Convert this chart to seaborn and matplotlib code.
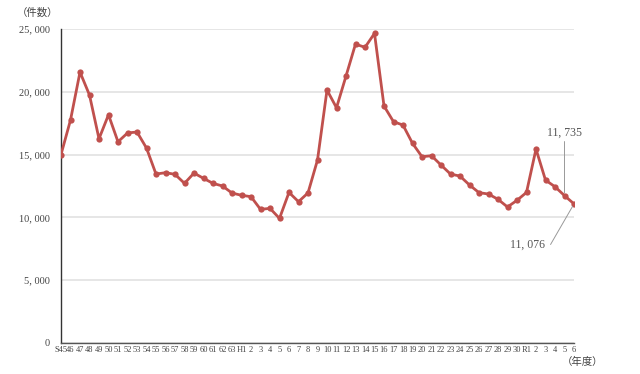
import matplotlib
matplotlib.use("Agg")
import matplotlib.pyplot as plt
import seaborn as sns
import pandas as pd
from matplotlib.ticker import FuncFormatter

# ---- data ----
years = (["S45"] + [str(i) for i in range(46, 64)] + ["H1"] + [str(i) for i in range(2, 31)]
         + ["R1"] + [str(i) for i in range(2, 7)])
counts = [15000, 17750, 21570, 19740, 16260, 18170, 16020, 16720, 16800, 15520,
          13450, 13560, 13430, 12710, 13530, 13110, 12710, 12500, 11940, 11760,
          11650, 10640, 10720, 9920, 11990, 11250, 11950, 14570, 20140, 18730,
          21250, 23800, 23540, 24650, 18870, 17620, 17350, 15900, 14830, 14910,
          14170, 13450, 13290, 12580, 11970, 11860, 11440, 10830, 11360, 11990,
          15440, 12970, 12440, 11735, 11076]
y_ticks = [0, 5000, 10000, 15000, 20000, 25000]
y_label = "（件数）"
x_label = "（年度）"

df = pd.DataFrame({"idx": range(len(years)), "year": years, "count": counts})

sns.set_style("white")
plt.rcParams['font.family'] = ['Liberation Serif', 'Noto Sans CJK JP', 'DejaVu Sans']

fig = plt.figure(figsize=(6.4, 3.74), dpi=100)
ax = fig.add_axes([61/640, 1-343/374, (574-61)/640, (343-29)/374])

color = "#c0504d"
sns.lineplot(data=df, x="idx", y="count", ax=ax, color=color, linewidth=2.0,
             marker="o", markersize=4.5, markeredgewidth=0, zorder=3)

ax.set_xlim(0, len(years) - 1)
ax.set_ylim(0, 25000)
ax.set_yticks(y_ticks)
ax.yaxis.set_major_formatter(FuncFormatter(lambda v, p: f"{int(v):,}".replace(",", ", ")))
ax.set_xticks(range(len(years)))
ax.set_xticklabels(years, fontsize=6.0, color="#444444")
ax.tick_params(axis="y", labelsize=7.5, colors="#444444", length=0, pad=8)
ax.tick_params(axis="x", length=0, pad=2)
ax.grid(axis="y", color="#e4e4e4", linewidth=1.3)
ax.set_axisbelow(True)
ax.set_xlabel("")
ax.set_ylabel("")
for s in ["top", "right"]:
    ax.spines[s].set_visible(False)
ax.spines["left"].set_color("#333333")
ax.spines["left"].set_linewidth(1.0)
ax.spines["bottom"].set_color("#555555")
ax.spines["bottom"].set_linewidth(1.0)

fig.text(17/640, 1-13/374, y_label, fontsize=7.5, color="#444444", va="center", ha="left",
         family=['Noto Sans CJK JP'])
fig.text(603/640, 1-362/374, x_label, fontsize=7.5, color="#444444", va="center", ha="right",
         family=['Noto Sans CJK JP'])

n = len(years)
ax.annotate(f"{counts[-2]:,}".replace(",", ", "), xy=(n - 2, counts[-2]),
            xytext=(n - 2, 16300), textcoords="data", ha="center", va="bottom",
            fontsize=8.5, color="#555555",
            arrowprops=dict(arrowstyle="-", color="#999999", lw=0.7, shrinkA=0, shrinkB=2))
ax.annotate(f"{counts[-1]:,}".replace(",", ", "), xy=(n - 1, counts[-1]),
            xytext=(50.9, 7800), textcoords="data", ha="right", va="center",
            fontsize=8.5, color="#555555",
            arrowprops=dict(arrowstyle="-", color="#999999", lw=0.7, shrinkA=2, shrinkB=2,
                            connectionstyle="angle,angleA=0,angleB=60,rad=0"))

fig.savefig("out.png", dpi=100)
